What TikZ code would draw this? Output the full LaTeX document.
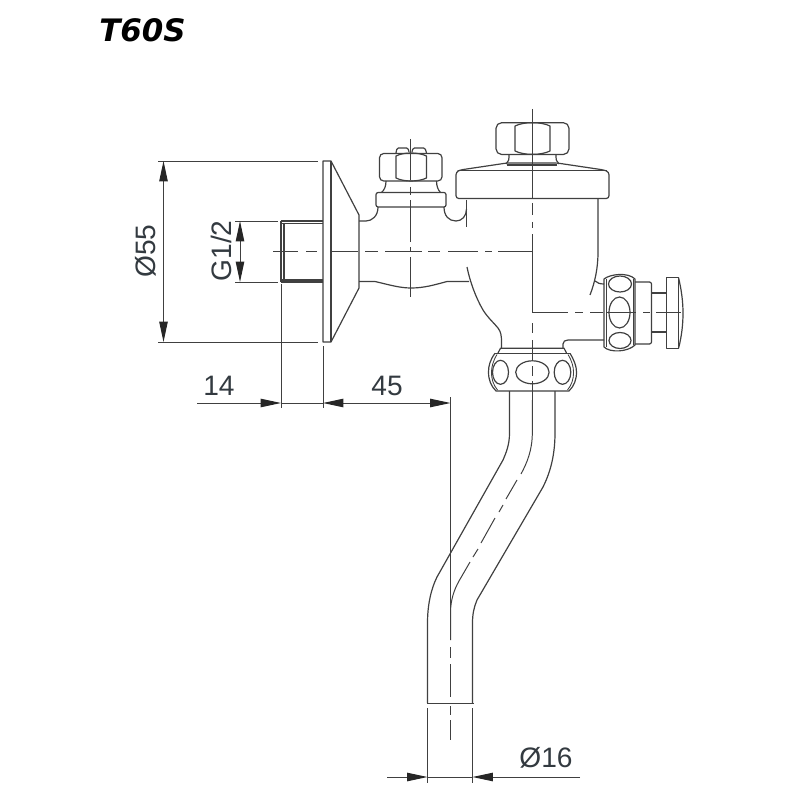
\documentclass[tikz,border=0pt]{standalone}
\usepackage{fontspec}
\setmainfont{Liberation Sans}
\newfontfamily\titlefont{DejaVu Sans}
\usetikzlibrary{arrows.meta}
\definecolor{inkline}{HTML}{404040}
\definecolor{inktext}{HTML}{333A40}
\tikzstyle{outline} = [draw=inkline, line width=0.85pt, line join=round]
\tikzstyle{thin line} = [draw=inkline, line width=0.6pt]
\tikzstyle{centre} = [draw=inkline, line width=0.7pt]
\tikzstyle{dimline} = [draw=inkline, line width=0.7pt]
\tikzstyle{tip} = [-{Triangle[length=14.5pt,width=6pt,color=black!85]}]
\tikzstyle{dimtext} = [text=inktext, font=\fontsize{20}{20}\selectfont, inner sep=0pt]

\begin{document}
\begin{tikzpicture}[x=0.025cm,y=-0.025cm]
            \useasboundingbox (0,0) rectangle (800,800);
            \fill[white] (0,0) rectangle (800,800);

            \node[text=black, font=\fontsize{22}{22}\titlefont\bfseries\itshape, inner sep=0pt] (title) at (142.5,30) {T60S};

            % flange and stub
            \draw[outline] (323,161) -- (331,161) -- (359,215) -- (359,288) -- (331,342) -- (323,342) -- cycle;
            \draw[outline] (331,161) -- (331,342);
            \draw[outline] (281,221) -- (323,221) (281,223.5) -- (323,223.5);
            \draw[outline] (281,280) -- (323,280) (281,282) -- (323,282);
            \draw[outline] (281,221) -- (281,282) (284,223) -- (284,280);

            % small valve on top
            \draw[outline,rounded corners=3pt] (379.5,153.5) rectangle (442,181);
            \draw[outline] (396,156) .. controls (404,152) and (418,152) .. (426.5,156) -- (426.5,178) .. controls (418,182) and (404,182) .. (396,178) -- cycle;
            \draw[outline,rounded corners=1pt] (396,153) -- (397,148) -- (408,148) -- (409,152);
            \draw[outline,rounded corners=1pt] (412,152) -- (413,148) -- (425,148) -- (426.5,153);
            \draw[outline] (386,181) .. controls (386,186) and (384.5,190) .. (381.5,192.5);
            \draw[outline] (436.5,181) .. controls (436.5,186) and (438,190) .. (440.5,192.5);
            \draw[outline,rounded corners=1.5pt] (376,207) -- (376,192.5) -- (446,192.5) -- (446,207) -- cycle;
            \draw[outline] (378,207) .. controls (378,216) and (372,221) .. (366,221) -- (359,221);
            \draw[outline] (444,207) .. controls (444,216) and (449,221) .. (456,221) .. controls (462,221) and (466.5,216) .. (466.5,209);
            \draw[outline] (466.5,200) -- (466.5,227);

            % valve body
            \draw[outline] (359,281.5) -- (375,281.5) .. controls (390,285) and (400,288) .. (411,288) .. controls (424,288) and (434,285) .. (447,281.5) -- (469,281.5);
            \draw[outline] (467,267) .. controls (470,282) and (476,298) .. (483,310) .. controls (488,318) and (494,323) .. (498,328) .. controls (501,332) and (501.5,336) .. (501.5,342) -- (501.5,348);
            \draw[outline] (598,199) -- (598,252) .. controls (598,268) and (595,282) .. (590,295);
            \draw[outline] (595,281) .. controls (597,283) and (600,284) .. (604,284);
            \draw[outline] (563,348) -- (563,344) .. controls (563,341.5) and (565,340) .. (568,340) -- (604,340);

            % cap with hexagon nut
            \draw[outline,rounded corners=2pt] (456,198.5) -- (456,172) -- (460,170) -- (507,163) -- (557,163) -- (604,170) -- (609,172) -- (609,198.5) -- cycle;
            \draw[outline] (458,170.5) -- (607,170.5);
            \draw[outline] (507,165) -- (557,165);
            \draw[outline] (509,154.5) .. controls (509,159) and (509,162) .. (506,164);
            \draw[outline] (556,154.5) .. controls (556,159) and (556,162) .. (559,164);
            \draw[outline,rounded corners=4pt] (496,122.7) rectangle (569,154.5);
            \draw[outline] (515,126) .. controls (524,121.5) and (541,121.5) .. (550,126) -- (550,151) .. controls (541,155.5) and (524,155.5) .. (515,151) -- cycle;

            % bottom nut
            \draw[outline] (498,353) -- (500.5,348.2) -- (564,348.2) -- (566.5,353);
            \draw[outline] (495,353.3) -- (570,353.3);
            \draw[outline] (495,353.3) .. controls (490,360) and (488.5,366) .. (488.5,372) .. controls (488.5,380) and (491,386) .. (496,391) -- (569,391) .. controls (574,386) and (576.5,380) .. (576.5,372) .. controls (576.5,366) and (574,360) .. (570,353.3);
            \draw[thin line] (497,354.5) .. controls (493,361) and (491.5,367) .. (491.5,372) .. controls (491.5,380) and (493.5,385) .. (497.5,390);
            \draw[thin line] (568,354.5) .. controls (572,361) and (573.5,367) .. (573.5,372) .. controls (573.5,380) and (571.5,385) .. (567.5,390);
            \draw[outline] (500.5,372.3) ellipse (8 and 12);
            \draw[outline] (532.4,372.3) ellipse (16.7 and 11.5);
            \draw[outline] (562.5,372.3) ellipse (8.3 and 12);

            % side nut and push button
            \draw[outline] (604,279) .. controls (610,274) and (628,272) .. (635,279) -- (635,345) .. controls (628,352) and (610,353) .. (604,347) -- cycle;
            \draw[thin line] (606.5,279) -- (606.5,347) (633,279) -- (633,345);
            \draw[outline] (620,284) ellipse (11.5 and 8);
            \draw[outline] (619.5,312.5) ellipse (10.5 and 15.5);
            \draw[outline] (620,340.5) ellipse (11 and 8);
            \draw[outline,rounded corners=1.5pt] (635,282) -- (651.5,282) -- (651.5,344) -- (635,344);
            \draw[outline] (651.5,293) -- (666.5,293) (651.5,332) -- (666.5,332);
            \draw[outline] (666.5,277.5) rectangle (678.5,348.5);
            \draw[outline] (678.5,277.5) .. controls (681.5,290) and (683,302) .. (683,313) .. controls (683,325) and (681.5,337) .. (678.5,348.5);

            % pipe
            \draw[outline] (509.5,391) -- (509.5,433) .. controls (509.5,445) and (506,453) .. (503,460) -- (437,577) .. controls (431,589) and (427.5,605) .. (427.5,623) -- (427.5,703);
            \draw[outline] (555,391) -- (555,433) .. controls (555,458) and (549,475) .. (543,487) -- (477,600) .. controls (474,607) and (472.5,614) .. (472.5,623) -- (472.5,703);
            \draw[outline] (427,703.5) -- (473.5,703.5);

            % centre lines
            \draw[centre] (273,251.7) -- (298,251.7) (306,251.7) -- (317,251.7) (330,251.7) -- (358,251.7) (365,251.7) -- (378,251.7) (385,251.7) -- (422,251.7) (428,251.7) -- (440,251.7) (448,251.7) -- (478,251.7) (485,251.7) -- (492,251.7) (498,251.7) -- (532.3,251.7);
            \draw[centre] (410.7,139) -- (410.7,180) (410.7,187) -- (410.7,195) (410.7,200) -- (410.7,242) (410.7,247) -- (410.7,252) (410.7,257) -- (410.7,297);
            \draw[centre] (532.3,109) -- (532.3,199) (532.3,203) -- (532.3,215) (532.3,222) -- (532.3,228) (532.3,234) -- (532.3,312) (532.3,323) -- (532.3,333) (532.3,340) -- (532.3,360) (532.3,366) -- (532.3,376) (532.3,381) -- (532.3,400);
            \draw[centre] (532.3,312.3) -- (568,312.3) (575,312.3) -- (583,312.3) (590,312.3) -- (603,312.3) (607,312.3) -- (636,312.3) (643,312.3) -- (650,312.3) (656,312.3) -- (681,312.3);
            \draw[centre] (532.3,400) -- (532.3,433) .. controls (532.3,450) and (527,463) .. (521,474);
            \draw[centre] (517,480) -- (506,499) (503,505) -- (499,512) (495,518) -- (481,543) (478,549) -- (473,557);
            \draw[centre] (470,562) -- (459,581) .. controls (454,590) and (450.5,600) .. (450.5,613) -- (450.5,640);
            \draw[centre] (450.5,647) -- (450.5,658) (450.5,664) -- (450.5,697) (450.5,706) -- (450.5,715) (450.5,720) -- (450.5,740);

            % dimensions
            \draw[dimline] (158,161) -- (318,161) (158,342) -- (318,342);
            \draw[dimline] (235,221) -- (278,221) (235,282) -- (278,282);
            \coordinate (d55mid) at (163.5,251.5);
            \coordinate (g12mid) at (240,251.5);
            \draw[dimline,tip] (d55mid) -- (163.5,161);
            \draw[dimline,tip] (d55mid) -- (163.5,342);
            \draw[dimline,tip] (g12mid) -- (240,221);
            \draw[dimline,tip] (g12mid) -- (240,282);
            \node[dimtext,rotate=90] (d55) at (146,251) {Ø55};
            \node[dimtext,rotate=90] (g12) at (221,251) {G1/2};

            \draw[dimline] (281,284) -- (281,408) (323,346) -- (323,408);
            \draw[dimline,tip] (197,403) -- (281,403);
            \draw[dimline] (281,403) -- (323,403);
            \draw[dimline,tip] (386,403) -- (323,403);
            \draw[dimline,tip] (386,403) -- (450.5,403);
            \draw[dimline] (450.5,397) -- (450.5,613);
            \node[dimtext] (d14) at (219,386) {14};
            \node[dimtext] (d45) at (387,386) {45};

            \draw[dimline] (427.5,708) -- (427.5,783) (472.5,708) -- (472.5,783);
            \draw[dimline,tip] (387,777) -- (427.5,777);
            \draw[dimline] (427.5,777) -- (472.5,777);
            \draw[dimline,tip] (580,777) -- (472.5,777);
            \node[dimtext] (d16) at (546,758) {Ø16};
        \end{tikzpicture}
\end{document}
